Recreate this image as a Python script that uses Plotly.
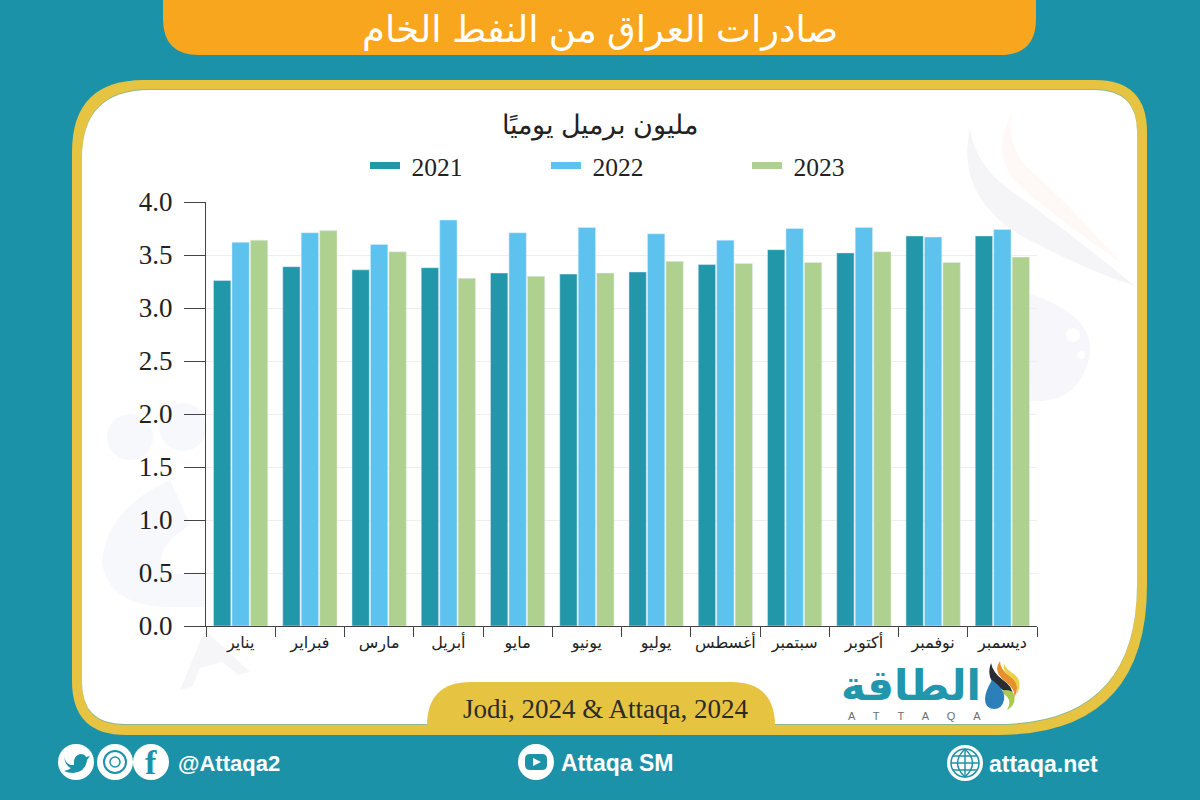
import plotly.graph_objects as go

months = ["يناير", "فبراير", "مارس", "أبريل", "مايو", "يونيو", "يوليو", "أغسطس", "سبتمبر", "أكتوبر", "نوفمبر", "ديسمبر"]
exports_2021 = [3.26, 3.39, 3.36, 3.38, 3.33, 3.32, 3.34, 3.41, 3.55, 3.52, 3.68, 3.68]
exports_2022 = [3.62, 3.71, 3.60, 3.83, 3.71, 3.76, 3.70, 3.64, 3.75, 3.76, 3.67, 3.74]
exports_2023 = [3.64, 3.73, 3.53, 3.28, 3.30, 3.33, 3.44, 3.42, 3.43, 3.53, 3.43, 3.48]
years = ["2021", "2022", "2023"]
colors = ["#2297aa", "#5ec2ef", "#aed18f"]
y_ticks = [0.0, 0.5, 1.0, 1.5, 2.0, 2.5, 3.0, 3.5, 4.0]

TEAL = "#1c92a9"
YELLOW = "#e6c340"
ORANGE = "#f9a61f"
SERIF = "Liberation Serif, DejaVu Serif"
SANS = "Liberation Sans, DejaVu Sans"

# plot area in page pixels
PL, PR, PT, PB = 206, 1037, 202, 626


def px(x):
    return (x - PL) / (PR - PL)


def py(y):
    return (PB - y) / (PB - PT)


def path(*parts):
    # parts are letters and page pixel pairs, converted to paper coordinates
    out = []
    for part in parts:
        if isinstance(part, str):
            out.append(part)
        else:
            out.append(f"{px(part[0]):.5f} {py(part[1]):.5f}")
    return " ".join(out)


def rrect(x0, y0, x1, y1, tl, tr, br, bl):
    return path("M", (x0 + tl, y0), "L", (x1 - tr, y0), "Q", (x1, y0), (x1, y0 + tr),
                "L", (x1, y1 - br), "Q", (x1, y1), (x1 - br, y1),
                "L", (x0 + bl, y1), "Q", (x0, y1), (x0, y1 - bl),
                "L", (x0, y0 + tl), "Q", (x0, y0), (x0 + tl, y0), "Z")


shapes = []


def add_path(d, fill, line=None, width=0, layer="below"):
    shapes.append(dict(type="path", xref="paper", yref="paper", path=d, fillcolor=fill, layer=layer,
                       line=dict(color=line or fill, width=width)))


def add_circle(cx, cy, r, fill, line=None, width=0, layer="below"):
    shapes.append(dict(type="circle", xref="paper", yref="paper", x0=px(cx - r), x1=px(cx + r),
                       y0=py(cy + r), y1=py(cy - r), fillcolor=fill, layer=layer,
                       line=dict(color=line or fill, width=width)))


def add_line(x0, y0, x1, y1, color, width):
    shapes.append(dict(type="line", xref="paper", yref="paper", x0=px(x0), x1=px(x1),
                       y0=py(y0), y1=py(y1), layer="below", line=dict(color=color, width=width)))


# header and panel
add_path(rrect(163, -2, 1036, 55, 0, 0, 36, 36), ORANGE)
add_path(rrect(72, 80, 1147, 735, 72, 52, 150, 54), YELLOW)
add_path(rrect(82, 89, 1137, 725, 68, 42, 140, 42), "#8db88e")
add_path(rrect(82, 90, 1137, 724, 68, 42, 140, 42), "#ffffff")

# watermark, right side
add_path(path("M", (970, 128), "Q", (955, 195), (1020, 235), "Q", (1085, 270), (1135, 286),
              "Q", (1060, 225), (1010, 190), "Q", (975, 165), (970, 128), "Z"), "#f5f5f7")
add_path(path("M", (1012, 112), "Q", (985, 160), (1030, 195), "Q", (1080, 235), (1120, 262),
              "Q", (1070, 205), (1030, 170), "Q", (1005, 145), (1012, 112), "Z"), "#fef9f6")
add_path(path("M", (1028, 293), "Q", (1095, 315), (1090, 355), "Q", (1080, 400), (1040, 401),
              "L", (1030, 401), "Z"), "#f6f6fb")
add_circle(1073, 335, 7, "#ffffff")
add_circle(1081, 355, 4, "#ffffff")

# watermark, left side
add_circle(130, 437, 23, "#f6f8fb")
add_circle(183, 427, 24, "#f6f8fb")
add_path(path("M", (102, 563), "Q", (105, 510), (170, 480), "L", (190, 525), "Q", (150, 550), (165, 575),
              "L", (206, 572), "L", (206, 607), "L", (170, 607), "Q", (110, 607), (102, 563), "Z"), "#f6f8fb")
add_path(path("M", (180, 690), "L", (205, 630), "L", (250, 672), "L", (238, 675), "L", (222, 662),
              "L", (200, 668), "L", (192, 687), "Z"), "#f6f6f8")

# source badge
add_path(rrect(427, 682, 775, 730, 44, 44, 0, 0), YELLOW)

# logo drop
add_path(path("M", (991, 663), "Q", (985, 680), (1000, 688), "Q", (1012, 695), (1010, 705),
              "Q", (1018, 690), (1003, 680), "Q", (993, 673), (991, 663), "Z"), "#2b2b33")
add_path(path("M", (1000, 661), "Q", (992, 672), (1006, 682), "Q", (1016, 690), (1014, 698),
              "Q", (1022, 684), (1010, 676), "Q", (1000, 670), (1000, 661), "Z"), "#e8912c")
add_path(path("M", (1004, 664), "Q", (1002, 672), (1012, 678), "Q", (1020, 686), (1016, 696),
              "Q", (1024, 682), (1014, 674), "Q", (1007, 670), (1004, 664), "Z"), "#e9d24a")
add_path(path("M", (1000, 692), "Q", (1014, 698), (1007, 710), "Q", (1018, 704), (1013, 692),
              "Q", (1006, 688), (1000, 692), "Z"), "#a9c94f")
add_path(path("M", (992, 680), "Q", (1006, 690), (1004, 700), "Q", (1002, 709), (994, 709),
              "Q", (985, 709), (985, 699), "Q", (985, 692), (992, 680), "Z"), "#2c7fb8")

# footer icons
add_circle(76, 762, 18, "#ffffff")
add_path(path("M", (64, 756), "Q", (66, 766), (74, 765), "Q", (73, 756), (80, 754), "Q", (85, 754), (86, 757),
              "L", (90, 756), "L", (87, 760), "Q", (86, 772), (73, 773), "Q", (68, 773), (64, 771),
              "Q", (69, 770), (71, 768), "Q", (65, 766), (64, 756), "Z"), TEAL)
add_circle(115, 762, 18, "#ffffff")
add_circle(115, 762, 11, "#ffffff", TEAL, 2)
add_circle(115, 762, 5, "#ffffff", TEAL, 1.5)
add_circle(151, 762, 18, "#ffffff")
add_circle(536, 762, 18, "#ffffff")
add_path(rrect(525, 754, 547, 770, 5, 5, 5, 5), TEAL)
add_path(path("M", (533, 758), "L", (541, 762), "L", (533, 766), "Z"), "#ffffff")
add_circle(965, 763, 18, "#ffffff")
add_circle(965, 763, 14, "#ffffff", TEAL, 1.5)
add_path(path("M", (965, 749), "Q", (950, 763), (965, 777), "Q", (980, 763), (965, 749), "Z"), "#ffffff", TEAL, 1.5)
add_line(951, 763, 979, 763, TEAL, 1.5)
add_line(953, 756, 977, 756, TEAL, 1.5)
add_line(953, 770, 977, 770, TEAL, 1.5)
add_line(965, 749, 965, 777, TEAL, 1.5)

fig = go.Figure()
for year, values, color in zip(years, [exports_2021, exports_2022, exports_2023], colors):
    fig.add_trace(go.Bar(x=months, y=values, name=year, marker_color=color, showlegend=False))
# line swatches for the legend, one legend per year so each can sit where the reference has it
legend_ids = ["legend", "legend2", "legend3"]
for year, color, legend_id in zip(years, colors, legend_ids):
    fig.add_trace(go.Scatter(x=[None], y=[None], mode="lines", name="\u00a0" + year, legend=legend_id,
                             line=dict(color=color, width=7)))

annotations = []


def add_text(text, x, y, size, color, family, anchor="center"):
    annotations.append(dict(text=text, xref="paper", yref="paper", x=px(x), y=py(y), xanchor=anchor,
                            yanchor="middle", showarrow=False, font=dict(size=size, color=color, family=family)))


add_text("صادرات العراق من النفط الخام", 600, 30, 37, "#ffffff", SANS)
add_text("Jodi, 2024 & Attaqa, 2024", 605, 709, 27, "#2b2b2b", SERIF)
add_text("<b>الطاقة</b>", 911, 685, 42, "#2296ad", SANS)
add_text("A      T      T      A      Q      A", 914, 716, 11, "#6d6e71", SANS)
add_text("<b>f</b>", 151, 762, 34, TEAL, SERIF)
add_text("<b>@Attaqa2</b>", 176, 763, 22, "#ffffff", SANS, "left")
add_text("<b>Attaqa SM</b>", 559, 763, 23, "#ffffff", SANS, "left")
add_text("<b>attaqa.net</b>", 987, 764, 23, "#ffffff", SANS, "left")


def legend_at(x):
    return dict(orientation="h", x=px(x), xanchor="left", y=py(166), yanchor="middle",
                font=dict(size=25.5, color="#222222", family=SERIF), bgcolor="rgba(0,0,0,0)")


fig.update_layout(
    width=1200,
    height=800,
    margin=dict(l=PL, r=1200 - PR, t=PT, b=800 - PB),
    paper_bgcolor=TEAL,
    plot_bgcolor="rgba(0,0,0,0)",
    barmode="group",
    bargap=0.2,
    bargroupgap=0.06,
    title=dict(text="مليون برميل يوميًا", x=0.5, xanchor="center", y=1 - 125 / 800, yanchor="middle",
               font=dict(size=26.5, color="#222222", family=SERIF)),
    legend=legend_at(365),
    legend2=legend_at(546),
    legend3=legend_at(747),
    shapes=shapes,
    annotations=annotations,
    showlegend=True,
)
fig.update_xaxes(type="category", categoryorder="array", categoryarray=months, tickson="boundaries",
                 ticks="outside", ticklen=10, tickcolor="#444444", showline=True, linecolor="#444444",
                 showgrid=False, tickangle=0, ticklabelstandoff=2,
                 tickfont=dict(size=16, color="#222222", family=SANS))
fig.update_yaxes(range=[0, 4], tickvals=y_ticks, tickformat=".1f", ticks="outside", ticklen=21,
                 tickcolor="#444444", showline=True, linecolor="#444444", gridcolor="#eeeeee", zeroline=False,
                 ticklabelstandoff=6, tickfont=dict(size=27, color="#222222", family=SERIF))

fig.write_html("out.html", config=dict(displayModeBar=False), post_script="document.body.style.margin='0';")
